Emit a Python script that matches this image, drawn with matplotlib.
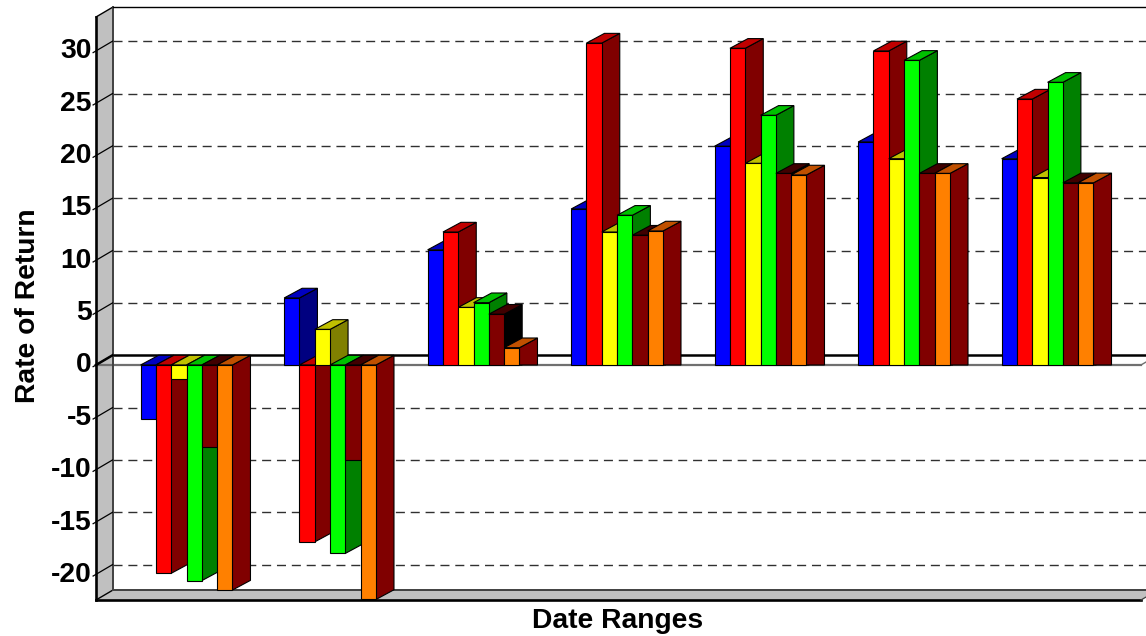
import matplotlib
matplotlib.use("Agg")
import matplotlib.pyplot as plt
from matplotlib.patches import Polygon
from matplotlib.transforms import ScaledTranslation

plt.rcParams['font.family'] = ['Liberation Sans', 'DejaVu Sans']

s1_values = [-5.2, 6.4, 11.0, 14.9, 20.9, 21.3, 19.7]
s2_values = [-19.9, -16.9, 12.7, 30.75, 30.25, 30.0, 25.4]
s3_values = [-1.3, 3.4, 5.5, 12.7, 19.26, 19.7, 17.9]
s4_values = [-20.6, -18.0, 5.95, 14.3, 23.85, 29.1, 27.0]
s5_values = [-7.8, -9.1, 4.85, 12.4, 18.3, 18.3, 17.4]
s6_values = [-21.5, -22.4, 1.65, 12.8, 18.15, 18.3, 17.4]
y_ticks = [-20, -15, -10, -5, 0, 5, 10, 15, 20, 25, 30]

all_series = [s1_values, s2_values, s3_values, s4_values, s5_values, s6_values]
front_colors = ['#0000FF', '#FF0000', '#FFFF00', '#00FF00', '#800000', '#FF8000']
top_colors = ['#0000C0', '#C00000', '#C0C000', '#00C000', '#400000', '#C05000']
side_colors = ['#000080', '#800000', '#808000', '#008000', '#000000', '#800000']

W, H = 1146, 636
fig = plt.figure(figsize=(W / 100, H / 100), dpi=100, facecolor='white')
ax = fig.add_axes([96 / W, 1 - 600 / H, (1141 - 96) / W, (600 - 17) / H])
ax.set_xlim(-0.631, 6.651)
ax.set_ylim(-22.45, 33.24)
for s in ax.spines.values():
    s.set_visible(False)
ax.patch.set_visible(False)

# depth of the pseudo-3D box and of the bars, in data units
DX = 16.5 / 143.5
BAR_DX = 18.0 / 143.5
DY = 9.7 / 10.47
xl, xr = ax.get_xlim()
yb, yt = ax.get_ylim()
xext = xr + 2 * DX


def poly(pts, fc, z, ec='black', lw=0.8):
    ax.add_patch(Polygon(pts, closed=True, facecolor=fc, edgecolor=ec,
                         linewidth=lw, zorder=z, clip_on=False,
                         joinstyle='miter'))


def seg(xs, ys, color='black', lw=1.0, z=3, **kw):
    ax.plot(xs, ys, color=color, lw=lw, zorder=z, clip_on=False,
            solid_capstyle='projecting', **kw)


# walls
poly([(xl, yb), (xl + DX, yb + DY), (xl + DX, yt + DY), (xl, yt)], '#C0C0C0', 1, ec='none')
poly([(xl, yb), (xl + DX, yb + DY), (xr + DX, yb + DY), (xr, yb)], '#C0C0C0', 1, ec='none')
seg([xl, xl], [yb, yt], lw=1.9)
seg([xl, xr], [yb, yb], lw=1.9)
seg([xr, xr + DX], [yb, yb + DY], color='#404040', lw=0.9)
seg([xl, xl + DX], [yt, yt + DY], lw=1.0)
seg([xl, xl + DX], [yb, yb + DY], lw=1.0)
seg([xl + DX, xl + DX], [yb + DY, yt + DY], color='#404040', lw=1.4)
seg([xl + DX, xext], [yb + DY, yb + DY], color='#404040', lw=1.4)
seg([xl + DX, xext], [yt + DY, yt + DY], lw=1.0)

# dashed grid on the back wall and slanted ticks on the side wall
for t in y_ticks:
    if t != 0:
        ax.plot([xl + DX, xext], [t + DY, t + DY], color='#303030', lw=1.0,
                linestyle=(0, (6.5, 4.2)), zorder=2, clip_on=False)
    seg([xl - 0.02, xl + DX], [t - 0.02 * DY / DX, t + DY], lw=0.9)

# zero plane
seg([xl + DX, xext], [DY, DY], lw=1.8, z=2)
seg([xl, xr], [0, 0], color='#707070', lw=1.6, z=2)
seg([xl, xl + DX], [0, DY], lw=1.8)
seg([xr, xr + DX], [0, DY], color='#707070', lw=1.0, z=2)

# bars, drawn left to right so each one covers its neighbour's side
bar_w = 0.64 / 6
z = 5
for g in range(7):
    for k, vals in enumerate(all_series):
        v = vals[g]
        x0 = g - 0.32 + k * bar_w
        x1 = x0 + bar_w
        top = max(v, 0)
        poly([(x1, 0), (x1, v), (x1 + BAR_DX, v + DY), (x1 + BAR_DX, DY if v < 0 else 0)],
             side_colors[k], z)
        poly([(x0, top), (x1, top), (x1 + BAR_DX, top + DY), (x0 + BAR_DX, top + DY)],
             top_colors[k], z)
        ax.bar(x0, v, width=bar_w, align='edge', color=front_colors[k],
               edgecolor='black', linewidth=0.8, zorder=z + 0.5, clip_on=False)
        z += 1

ax.set_xticks([])
ax.set_yticks(y_ticks)
ax.set_yticklabels([str(t) for t in y_ticks], fontsize=20.3, fontweight='bold')
ax.tick_params(axis='y', length=0, pad=3)
shift = ScaledTranslation(0, 2.5 / 100, fig.dpi_scale_trans)
for lab in ax.get_yticklabels():
    lab.set_transform(lab.get_transform() + shift)
ax.set_ylabel('Rate of Return', fontsize=20.3, fontweight='bold', va='center')
ax.yaxis.set_label_coords((28 - 96) / 1045, (600 - 306) / 583)
ax.set_xlabel('Date Ranges', fontsize=20.3, fontweight='bold', va='center')
ax.xaxis.set_label_coords((617.5 - 96) / 1045, (600 - 621) / 583)

fig.savefig('out.png', dpi=100)
